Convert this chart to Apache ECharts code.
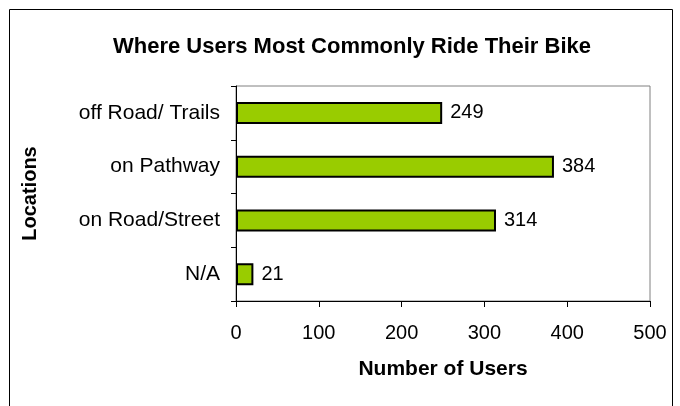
<!DOCTYPE html>
<html lang="en">
  <head>
    <meta charset="UTF-8" />
    <title>Where Users Most Commonly Ride Their Bike</title>
    <style>
      html, body { margin: 0; padding: 0; background: #fff; }
      #main { width: 680px; height: 406px; }
    </style>
  </head>
  <body>
    <div id="main"></div>
    <script src="https://cdn.jsdelivr.net/npm/echarts@6/dist/echarts.min.js"></script>
    <script>
      // categories bottom -> top (ECharts draws the first category at the bottom)
      var locations = ["N/A", "on Road/Street", "on Pathway", "off Road/ Trails"];
      var users = [21, 314, 384, 249];
      var xTicks = [0, 100, 200, 300, 400, 500];

      var font = "Liberation Sans, Arial, sans-serif";
      var myChart = echarts.init(document.getElementById("main"));

      option = {
        animation: false,
        title: {
          text: "Where Users Most Commonly Ride Their Bike",
          left: 347,
          textAlign: "center",
          top: 31,
          textStyle: { fontFamily: font, fontSize: 22, fontWeight: "bold", color: "#000" },
        },
        // outer chart frame (cut off at the bottom like the reference)
        graphic: [
          {
            type: "rect",
            shape: { x: 9.5, y: 9.5, width: 663, height: 420 },
            style: { fill: "none", stroke: "#000", lineWidth: 1 },
            silent: true,
          },
        ],
        grid: {
          left: 236,
          right: 30,
          top: 86,
          bottom: 105,
          show: true,
          borderColor: "#808080",
          borderWidth: 1,
        },
        xAxis: {
          type: "value",
          min: xTicks[0],
          max: xTicks[xTicks.length - 1],
          interval: 100,
          name: "Number of Users",
          nameLocation: "middle",
          nameGap: 58,
          nameTextStyle: { fontFamily: font, fontSize: 21, fontWeight: "bold", color: "#000" },
          axisLine: { show: true, lineStyle: { color: "#000", width: 1 } },
          axisTick: { show: true, inside: false, length: 6, lineStyle: { color: "#000" } },
          axisLabel: { fontFamily: font, fontSize: 20, color: "#000", margin: 22 },
          splitLine: { show: false },
        },
        yAxis: {
          type: "category",
          data: locations,
          name: "Locations",
          nameLocation: "middle",
          nameGap: 196,
          nameRotate: 90,
          nameTextStyle: { fontFamily: font, fontSize: 20, fontWeight: "bold", color: "#000" },
          axisLine: { show: true, lineStyle: { color: "#000", width: 1 } },
          axisTick: { show: true, length: 5, lineStyle: { color: "#000" } },
          axisLabel: { fontFamily: font, fontSize: 21, color: "#000", margin: 16 },
        },
        series: [
          {
            type: "bar",
            data: users,
            barWidth: 22,
            itemStyle: { color: "#99CC00", borderColor: "#000", borderWidth: 2 },
            label: {
              show: true,
              position: "right",
              distance: 8,
              fontFamily: font,
              fontSize: 20,
              color: "#000",
            },
          },
        ],
      };

      myChart.setOption(option);
    </script>
  </body>
</html>
